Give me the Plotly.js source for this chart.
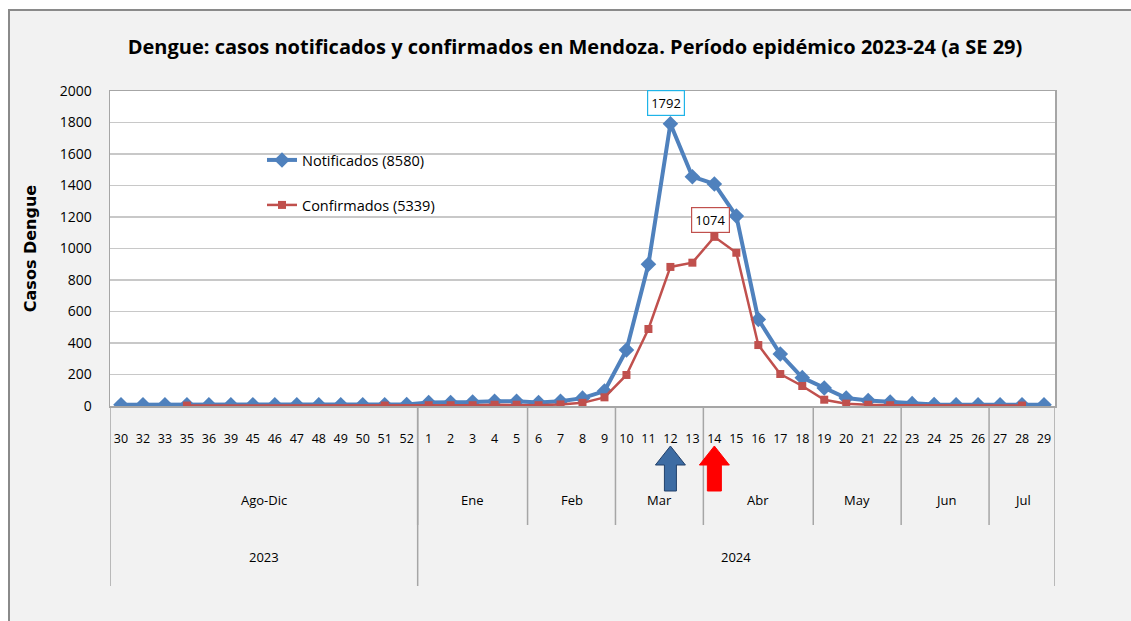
<!DOCTYPE html>
<html>
<head>
<meta charset="utf-8">
<script src="https://cdn.plot.ly/plotly-3.0.1.min.js"></script>
<style>
  html, body { margin: 0; padding: 0; background: #ffffff; }
  #frame { position: absolute; left: 8px; top: 9px; width: 1123px; height: 612px;
           border-left: 2px solid #8a8a8a; border-top: 2px solid #8a8a8a; background: #f2f2f2; }
  #chart { position: absolute; left: 0; top: 0; width: 1131px; height: 621px; }
</style>
</head>
<body>
<div id="frame"></div>
<div id="chart"></div>
<script>
// ---- data ----
const weeks = ['30','32','33','35','36','39','45','46','47','48','49','50','51','52',
  '1','2','3','4','5','6','7','8','9','10','11','12','13','14','15','16','17','18','19','20',
  '21','22','23','24','25','26','27','28','29'];
const notificados = [8,8,8,8,8,8,8,8,8,8,8,8,8,10,
  22,22,25,30,30,22,30,50,95,356,900,1792,1456,1410,1206,550,330,180,114,51,
  35,25,15,10,8,8,8,8,8];
const confirmados = [null,null,null,3,null,null,null,null,null,null,null,null,3,null,
  5,5,5,8,8,5,10,20,55,197,489,883,910,1074,973,387,203,127,40,15,
  8,5,null,null,null,null,null,3,null];
const seriesNames = ['Notificados (8580)', 'Confirmados (5339)'];
const months = ['Ago-Dic','Ene','Feb','Mar','Abr','May','Jun','Jul'];
const monthSpans = [14,5,4,4,5,4,4,3];
const years = ['2023','2024'];
const yearSpans = [14,29];
const arrowWeeks = ['12','14'];
const titleText = 'Dengue: casos notificados y confirmados en Mendoza. Período epidémico 2023-24 (a SE 29)';

// ---- helpers ----
const FONT = 'Open Sans, Noto Sans, sans-serif';
const sepColor = '#a6a6a6';
const shapes = [];
const annotations = [];

// paper y for pixel rows (plot area 91..406 px)
const pY = px => (406 - px) / 315;

function groupLines(spans, yBottom, labels, yLabel) {
  let start = -0.5;
  spans.forEach((n, i) => {
    const end = start + n;
    annotations.push({ x: (start + end) / 2, xref: 'x', y: pY(yLabel), yref: 'paper',
      xanchor: 'center', yanchor: 'middle',
      text: labels[i], showarrow: false, font: { family: FONT, size: 13, color: '#000' } });
    if (i < spans.length - 1) {
      shapes.push({ type: 'line', xref: 'x', yref: 'paper', x0: end, x1: end, y0: 0, y1: pY(yBottom),
        line: { color: sepColor, width: 1.5 } });
    }
    start = end;
  });
}
groupLines(monthSpans, 525, months, 500);
groupLines(yearSpans, 586, years, 557);
// outer edges
[-0.5, weeks.length - 0.5].forEach(x => shapes.push({ type: 'line', xref: 'x', yref: 'paper',
  x0: x, x1: x, y0: 0, y1: pY(586), line: { color: sepColor, width: 1.5 } }));

// up arrows under weeks 12 and 14
const arrowStyles = [
  { fill: '#3d6ca3', line: '#22406a', head: 15, body: 6 },
  { fill: '#ff0000', line: '#ff0000', head: 15, body: 7 }
];
arrowWeeks.forEach((w, i) => {
  const s = arrowStyles[i];
  const tip = 0, headBase = -19, bottom = -45;
  const path = `M 0 ${tip} L ${s.head} ${headBase} L ${s.body} ${headBase} L ${s.body} ${bottom} ` +
               `L ${-s.body} ${bottom} L ${-s.body} ${headBase} L ${-s.head} ${headBase} Z`;
  shapes.push({ type: 'path', xref: 'x', yref: 'paper', xsizemode: 'pixel', ysizemode: 'pixel',
    xanchor: weeks.indexOf(w), yanchor: pY(446), path: path,
    fillcolor: s.fill, line: { color: s.line, width: 1 } });
});

// peak labels
const iN = notificados.indexOf(Math.max(...notificados));
const cVals = confirmados.map(v => v === null ? -1 : v);
const iC = cVals.indexOf(Math.max(...cVals));
annotations.push({ x: iN, xref: 'x', y: notificados[iN], yref: 'y', yshift: 21, xshift: -4,
  text: String(notificados[iN]), showarrow: false, bgcolor: '#ffffff', bordercolor: '#1fb4e8',
  borderwidth: 1.2, borderpad: 3, font: { family: FONT, size: 13, color: '#000' } });
annotations.push({ x: iC, xref: 'x', y: confirmados[iC], yref: 'y', yshift: 17, xshift: -4,
  text: String(confirmados[iC]), showarrow: false, bgcolor: '#ffffff', bordercolor: '#c0504d',
  borderwidth: 1.2, borderpad: 3, font: { family: FONT, size: 13, color: '#000' } });

const traces = [
  { x: weeks, y: notificados, name: seriesNames[0], type: 'scatter', mode: 'lines+markers',
    line: { color: '#4f81bd', width: 4 }, marker: { symbol: 'diamond', size: 12, color: '#4f81bd' },
    legend: 'legend', showlegend: true },
  { x: weeks, y: confirmados, name: seriesNames[1], type: 'scatter', mode: 'lines+markers',
    connectgaps: true,
    line: { color: '#c0504d', width: 2.5 }, marker: { symbol: 'square', size: 8, color: '#c0504d' },
    legend: 'legend2', showlegend: true }
];

const legendBase = { bgcolor: 'rgba(0,0,0,0)', font: { family: FONT, size: 14.5, color: '#000' },
  xanchor: 'left', yanchor: 'middle', itemwidth: 30, visible: true };

const layout = {
  width: 1131, height: 621,
  showlegend: true,
  margin: { l: 110, r: 76, t: 91, b: 215 },
  paper_bgcolor: 'rgba(0,0,0,0)', plot_bgcolor: '#ffffff',
  title: { text: '<b>' + titleText + '</b>', font: { family: FONT, size: 20, color: '#000' },
    x: (575 - 110) / 945, xref: 'paper', xanchor: 'center', y: 1 - 47 / 621, yref: 'container', yanchor: 'middle' },
  xaxis: { type: 'category', showgrid: false, showline: true, linecolor: sepColor, linewidth: 1.5,
    mirror: true, ticks: '', ticklabelstandoff: 20, tickangle: 0,
    tickfont: { family: FONT, size: 12.5, color: '#000' }, range: [-0.5, weeks.length - 0.5], fixedrange: true },
  yaxis: { range: [0, 2000], dtick: 200, gridcolor: '#c8c8c8', gridwidth: 1.5, showline: true,
    linecolor: sepColor, linewidth: 1.5, mirror: true, ticks: '', ticklabelstandoff: 14,
    zeroline: false, tickfont: { family: FONT, size: 14, color: '#000' },
    title: { text: '<b>Casos Dengue</b>', font: { family: 'DejaVu Sans, Verdana, sans-serif', size: 16, color: '#000' }, standoff: 19 } },
  legend: Object.assign({}, legendBase, { x: (262 - 110) / 945, y: pY(160) }),
  legend2: Object.assign({}, legendBase, { x: (262 - 110) / 945, y: pY(205) }),
  shapes: shapes,
  annotations: annotations
};

Plotly.newPlot('chart', traces, layout, { displayModeBar: false, staticPlot: true });
</script>
</body>
</html>
